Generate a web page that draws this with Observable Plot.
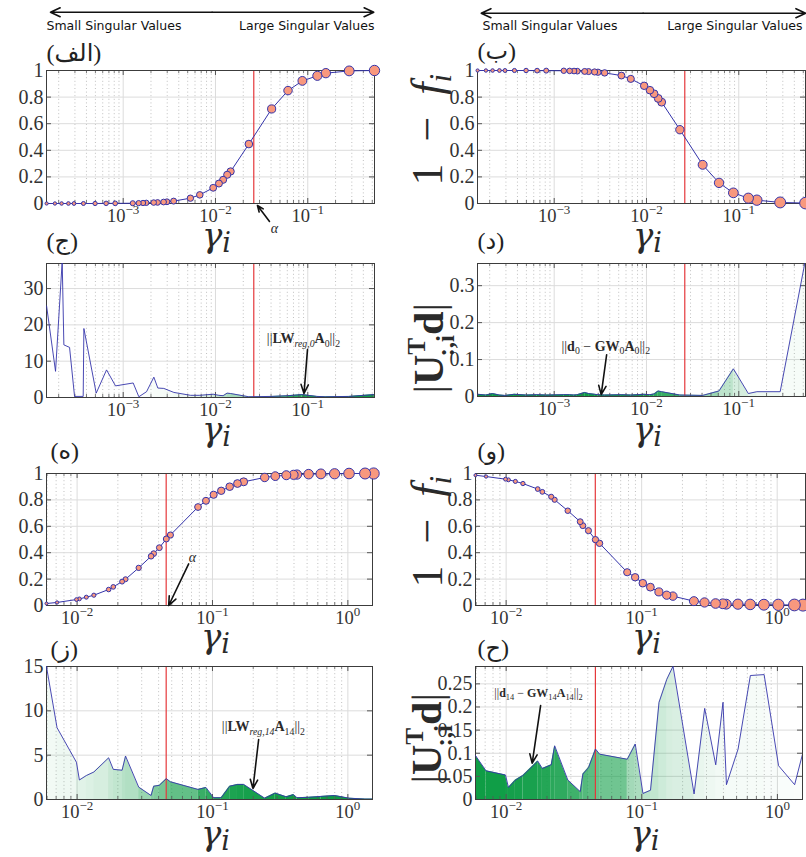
<!DOCTYPE html>
<html><head><meta charset="utf-8">
<script src="https://cdn.jsdelivr.net/npm/d3@7"></script>
<script src="https://cdn.jsdelivr.net/npm/@observablehq/plot@0.6"></script>
<style>
html,body{margin:0;padding:0;background:#fff;overflow:hidden}
#root{position:relative;width:806px;height:857px;overflow:hidden;background:#fff}
</style></head><body><div id="root"></div>
<script>
// ---------------- data ----------------
const gammaA = [1.48e-4, 1.82e-4, 2.15e-4, 2.55e-4, 2.93e-4, 3.71e-4, 4.96e-4, 6.53e-4, 8.19e-4, 1.27e-3, 1.47e-3, 1.64e-3, 1.78e-3, 2.14e-3, 2.36e-3, 2.74e-3, 2.98e-3, 3.52e-3, 5.35e-3, 6.76e-3, 9.44e-3, 1.09e-2, 1.21e-2, 1.34e-2, 1.46e-2, 2.30e-2, 4.06e-2, 6.11e-2, 8.74e-2, 0.127, 0.157, 0.281, 0.528];
const filterA = [0, 0, 0, 0, 0, 0, 0, 0.001, 0.001, 0.002, 0.003, 0.004, 0.005, 0.007, 0.008, 0.011, 0.013, 0.018, 0.04, 0.065, 0.118, 0.15, 0.178, 0.216, 0.241, 0.447, 0.711, 0.849, 0.922, 0.96, 0.98, 0.997, 1.0];
const oneMinusFB = [1, 1, 1, 1, 1, 1, 1, 0.999, 0.999, 0.998, 0.997, 0.996, 0.995, 0.993, 0.992, 0.989, 0.987, 0.982, 0.962, 0.937, 0.885, 0.852, 0.825, 0.79, 0.762, 0.555, 0.291, 0.155, 0.08, 0.04, 0.025, 0.008, 0.003];
const gammaC = [1.479e-4, 1.849e-4, 2.183e-4, 2.276e-4, 2.623e-4, 2.971e-4, 3.687e-4, 3.750e-4, 5.10e-4, 6.60e-4, 8.26e-4, 1.283e-3, 1.478e-3, 1.791e-3, 2.149e-3, 2.373e-3, 2.754e-3, 3.538e-3, 5.36e-3, 6.76e-3, 9.44e-3, 1.086e-2, 1.211e-2, 1.337e-2, 1.454e-2, 2.296e-2, 4.04e-2, 6.07e-2, 8.69e-2, 0.1262, 0.1552, 0.278, 0.527];
const normC = [25.2, 7.2, 37.5, 14.5, 13.8, 0.3, 0.3, 19.0, 1.2, 7.6, 3.2, 4.0, 0.2, 1.6, 5.6, 2.6, 2.5, 1.4, 0.6, 0.6, 0.9, 0.6, 0.5, 1.2, 1.1, 0.2, 0.3, 0.5, 0.8, 0.3, 0.2, 0.3, 0.8];
const coefD = [0.006, 0.004, 0.008, 0.004, 0.003, 0.006, 0.004, 0.005, 0.004, 0.005, 0.005, 0.004, 0.005, 0.011, 0.008, 0.006, 0.005, 0.004, 0.005, 0.004, 0.006, 0.005, 0.007, 0.015, 0.013, 0.004, 0.003, 0.015, 0.075, 0.008, 0.013, 0.013, 0.37];
const gammaE = [0.00594, 0.00711, 0.00989, 0.0104, 0.0117, 0.0133, 0.0171, 0.0185, 0.0215, 0.0228, 0.0285, 0.0352, 0.0368, 0.0405, 0.0456, 0.0489, 0.0782, 0.0895, 0.102, 0.116, 0.134, 0.153, 0.170, 0.243, 0.291, 0.351, 0.397, 0.421, 0.513, 0.632, 0.798, 1.02, 1.34, 1.55];
const filterE = [0.015, 0.023, 0.045, 0.050, 0.063, 0.078, 0.121, 0.141, 0.181, 0.199, 0.285, 0.373, 0.393, 0.438, 0.504, 0.534, 0.746, 0.793, 0.839, 0.869, 0.900, 0.924, 0.937, 0.970, 0.980, 0.987, 0.990, 0.992, 0.995, 0.997, 0.998, 1, 1, 1];
const oneMinusFF = [0.987, 0.977, 0.957, 0.952, 0.940, 0.924, 0.882, 0.861, 0.824, 0.801, 0.718, 0.635, 0.605, 0.567, 0.499, 0.471, 0.252, 0.214, 0.169, 0.139, 0.103, 0.078, 0.071, 0.033, 0.023, 0.015, 0.013, 0.010, 0.010, 0.008, 0.006, 0.005, 0.004, 0.003];
const normG = [15.0, 8.1, 4.2, 2.2, 2.7, 3.1, 4.7, 3.4, 3.3, 4.9, 1.4, 0.45, 1.5, 1.6, 2.35, 2.0, 1.14, 1.36, 0.2, 0.2, 1.5, 1.7, 1.7, 0.15, 0.72, 0.3, 0.55, 0.2, 0.25, 0.35, 0.45, 0.15, 0.05, 0.05];
const coefH = [0.095, 0.062, 0.053, 0.026, 0.042, 0.052, 0.083, 0.067, 0.075, 0.116, 0.042, 0.017, 0.055, 0.069, 0.109, 0.098, 0.087, 0.12, 0.013, 0.02, 0.21, 0.26, 0.288, 0.012, 0.197, 0.075, 0.21, 0.032, 0.109, 0.268, 0.27, 0.073, 0.032, 0.104];

const alphaTop = 0.026, alphaBottom = 0.0455;
const xTicksTop = [1e-3, 1e-2, 1e-1];
const xTicksBottom = [1e-2, 1e-1, 1];
const yTicksF = [0, 0.2, 0.4, 0.6, 0.8, 1];
const yTicksC = [0, 10, 20, 30];
const yTicksD = [0, 0.1, 0.2, 0.3];
const yTicksG = [0, 5, 10, 15];
const yTicksH = [0, 0.05, 0.1, 0.15, 0.2, 0.25];
const panelLetters = ["(الف)", "(ب)", "(ج)", "(د)", "(ه)", "(و)", "(ز)", "(ح)"];
const headerTexts = ["Small Singular Values", "Large Singular Values"];

// annotation anchors (data units of each panel)
const alphaLabelA = [{g: 0.0436, v: -0.188}];
const arrowA = [{g1: 0.0385, v1: -0.135, g2: 0.0285, v2: -0.015}];
const labelC = [{g: 0.0898, v: 16.2}];
const arrowC = [{g1: 0.0993, v1: 13.2, g2: 0.091, v2: 1.1}];
const labelD = [{g: 0.00362, v: 0.1365}];
const arrowD = [{g1: 0.0037, v1: 0.113, g2: 0.00323, v2: 0.005}];
const alphaLabelE = [{g: 0.071, v: 0.359}];
const arrowE = [{g1: 0.0667, v1: 0.315, g2: 0.0475, v2: 0.0}];
const labelG = [{g: 0.2377, v: 8.18}];
const arrowG = [{g1: 0.2193, v1: 6.77, g2: 0.199, v2: 1.24}];
const labelH = [{g: 0.01734, v: 0.229}];
const arrowH = [{g1: 0.01795, v1: 0.203, g2: 0.01556, v2: 0.0785}];
const headerLeft = {arrow: [{a: 9.2e-3, b: 1.63e-4, y: 1.438}, {a: 9.2e-3, b: 0.519, y: 1.438}], small: [{g: 1.476e-4, y: 1.331}], large: [{g: 0.528, y: 1.331}]};
const headerRight = {arrow: [{a: 9.2e-3, b: 1.62e-4, y: 1.431}, {a: 9.2e-3, b: 0.53, y: 1.431}], small: [{g: 1.67e-4, y: 1.331}], large: [{g: 0.01675, y: 1.331}]};

// ---------------- style ----------------
const SERIF = "'Liberation Serif', 'DejaVu Serif', 'DejaVu Sans', serif";
const GSERIF = "'DejaVu Serif', 'Liberation Serif', serif";
const SANS = "'DejaVu Sans', 'Noto Sans', sans-serif";
const BLUE = "#3434aa";
const SALMON = "#f8987e";
const RED = "#e5383b";
const INK = "#2a2a2a";
const root = document.getElementById("root");

function minorTicks(lo, hi) {
  const out = [];
  for (let k = Math.floor(lo); k <= Math.ceil(hi); k++)
    for (let m = 2; m <= 9; m++) { const v = m * 10 ** k, l = Math.log10(v); if (l > lo && l < hi) out.push(v); }
  return out;
}
function interpAt(gs, vs, g) {
  const lg = Math.log10(g);
  if (g <= gs[0]) return vs[0];
  for (let i = 0; i < gs.length - 1; i++) {
    if (g <= gs[i + 1]) {
      const a = Math.log10(gs[i]), b = Math.log10(gs[i + 1]);
      return vs[i] + (lg - a) / (b - a) * (vs[i + 1] - vs[i]);
    }
  }
  return vs[vs.length - 1];
}
function segments(gs, vs, ws) {
  const rows = [];
  for (let i = 0; i < gs.length - 1; i++) {
    const w = Math.max(0, Math.min(1, ws[i]));
    const c = `rgba(12,156,68,${Math.pow(w, 0.7).toFixed(3)})`;
    rows.push({seg: i, x: gs[i], y: vs[i], c}, {seg: i, x: gs[i + 1], y: vs[i + 1], c});
  }
  return rows;
}
function rich(el, parts, base, family) {
  const t = d3.select(el); t.text(null);
  if (family) t.attr("font-family", family);
  let shift = 0;
  for (const p of parts) {
    const s = p.s || 1, target = (p.dy || 0) * base;
    const ts = t.append("tspan").attr("font-size", (s * base).toFixed(1));
    const d = target - shift;
    if (Math.abs(d) > 1e-6) ts.attr("dy", d.toFixed(1));
    if (p.dx) ts.attr("dx", (p.dx * base).toFixed(1));
    if (p.b) ts.attr("font-weight", "bold");
    if (p.i) ts.attr("font-style", "italic");
    ts.text(p.t);
    shift = target;
  }
}
const NB = "\u00a0", EN = "\u2002";
const richParts = {
  gamma: [{t: "γ", i: 1}, {t: "i", i: 1, s: 0.8, dy: 0.15}],
  onef: [{t: "1" + EN + "−" + EN}, {t: "f", i: 1}, {t: "i", i: 1, s: 0.7, dy: 0.22}],
  utd: [{t: "|"}, {t: "U", b: 1}, {t: "T", b: 1, s: 0.6, dy: -0.42}, {t: ":,i", b: 1, s: 0.6, dy: 0.28, dx: -0.4}, {t: "d", b: 1, dy: 0}, {t: "|"}],
  normC: [{t: "||"}, {t: "LW", b: 1}, {t: "reg,0", i: 1, s: 0.7, dy: 0.25}, {t: "A", b: 1, dy: 0}, {t: "0", s: 0.7, dy: 0.25}, {t: "||", dy: 0}, {t: "2", s: 0.7, dy: 0.25}],
  normD: [{t: "||"}, {t: "d", b: 1}, {t: "0", s: 0.7, dy: 0.25}, {t: NB + "−" + NB, dy: 0}, {t: "GW", b: 1}, {t: "0", s: 0.7, dy: 0.25}, {t: "A", b: 1, dy: 0}, {t: "0", s: 0.7, dy: 0.25}, {t: "||", dy: 0}, {t: "2", s: 0.7, dy: 0.25}],
  normG: [{t: "||"}, {t: "LW", b: 1}, {t: "reg,14", i: 1, s: 0.7, dy: 0.25}, {t: "A", b: 1, dy: 0}, {t: "14", s: 0.7, dy: 0.25}, {t: "||", dy: 0}, {t: "2", s: 0.7, dy: 0.25}],
  normH: [{t: "||"}, {t: "d", b: 1}, {t: "14", s: 0.7, dy: 0.25}, {t: NB + "−" + NB, dy: 0}, {t: "GW", b: 1}, {t: "14", s: 0.7, dy: 0.25}, {t: "A", b: 1, dy: 0}, {t: "14", s: 0.7, dy: 0.25}, {t: "||", dy: 0}, {t: "2", s: 0.7, dy: 0.25}],
  alpha: [{t: "α", i: 1}]
};
const richBase = {gamma: 34, onef: 44, utd: 42, normC: 14, normD: 14, normG: 14, normH: 12, alpha: 14};
const richFamily = {gamma: GSERIF};

function richText(key, opts) {
  return Plot.text(["§" + key], {text: d => d, fill: INK, fontFamily: richFamily[key] || SERIF, fontSize: richBase[key], ...opts});
}
function arrowMark(data) {
  return Plot.arrow(data, {x1: "g1", y1: "v1", x2: "g2", y2: "v2", stroke: "#111", strokeWidth: 1.6, headLength: 9, headAngle: 45});
}

function build(cfg) {
  const {left, top, width, height, ml, mr, mt, mb, xlog, xTicks, yDomain, yTicks} = cfg;
  const fw = width - ml - mr, fh = height - mt - mb;
  const minor = minorTicks(xlog[0], xlog[1]);
  const grid = [
    Plot.ruleX(minor, {stroke: "#b0b0b0", strokeWidth: 0.8, strokeDasharray: "1,2.6"}),
    Plot.ruleX(xTicks, {stroke: "#dcdcdc", strokeWidth: 1}),
    Plot.ruleY(yTicks, {stroke: "#dcdcdc", strokeWidth: 1})
  ];
  const box = [
    Plot.ruleX(minor, {stroke: "#555", strokeWidth: 0.8, insetTop: fh - 3}),
    Plot.ruleX(minor, {stroke: "#555", strokeWidth: 0.8, insetBottom: fh - 3}),
    Plot.ruleX(xTicks, {stroke: "#555", insetTop: fh - 5}),
    Plot.ruleX(xTicks, {stroke: "#555", insetBottom: fh - 5}),
    Plot.ruleY(yTicks, {stroke: "#555", insetRight: fw - 5}),
    Plot.ruleY(yTicks, {stroke: "#555", insetLeft: fw - 5}),
    Plot.frame({stroke: "#3c3c3c", strokeWidth: 1})
  ];
  const svg = Plot.plot({
    width, height, marginLeft: ml, marginRight: mr, marginTop: mt, marginBottom: mb,
    x: {type: "log", domain: [10 ** xlog[0], 10 ** xlog[1]], ticks: xTicks, tickFormat: d => "10^" + Math.round(Math.log10(d)), tickSize: 0, tickPadding: 5, label: null},
    y: {domain: yDomain, ticks: yTicks, tickFormat: d => String(d), tickSize: 0, tickPadding: 3, label: null},
    r: cfg.r,
    marks: [...grid, ...(cfg.under || []), ...box, ...(cfg.marks || []), ...(cfg.overlay || [])]
  });
  svg.style.position = "absolute";
  svg.style.left = left + "px";
  svg.style.top = top + "px";
  svg.style.background = "transparent";
  svg.style.fontFamily = SERIF;
  svg.style.fontSize = "19px";
  svg.style.color = "#333";
  svg.style.maxWidth = "none";
  const s = d3.select(svg);
  s.selectAll('g[aria-label="x-axis tick label"]').attr("font-size", 18.5);
  s.selectAll('g[aria-label="y-axis tick label"]').attr("font-size", 20);
  s.selectAll('g[aria-label="x-axis tick label"] text').each(function () {
    const str = this.textContent;
    if (!str.includes("^")) return;
    const [b, e] = str.split("^");
    const t = d3.select(this); t.text(null);
    t.append("tspan").text(b);
    t.append("tspan").attr("dy", -8).attr("font-size", 13).text(e.replace("-", "−"));
  });
  s.selectAll("text").each(function () {
    const c = this.textContent;
    if (c && c.startsWith("§")) {
      const key = c.slice(1);
      if (richParts[key]) rich(this, richParts[key], richBase[key], richFamily[key]);
    }
  });
  root.appendChild(svg);
  return svg;
}

function letter(i, dx, dy) {
  return Plot.text([panelLetters[i]], {text: d => d, frameAnchor: "top-left", textAnchor: "start", lineAnchor: "bottom", dx, dy, fontSize: 24, fill: "#222", fontFamily: SERIF});
}
function gammaLabel(dy) {
  return richText("gamma", {frameAnchor: "bottom", lineAnchor: "bottom", dx: 6, dy});
}
function header(h) {
  return [
    Plot.arrow(h.arrow, {x1: "a", x2: "b", y1: "y", y2: "y", stroke: "#111", strokeWidth: 1.6, headLength: 10, headAngle: 50}),
    Plot.text(h.small, {x: "g", y: "y", text: () => headerTexts[0], textAnchor: "start", fontFamily: SANS, fontSize: 12.5, fill: "#111"}),
    Plot.text(h.large, {x: "g", y: "y", text: () => headerTexts[1], textAnchor: h === headerLeft ? "end" : "start", fontFamily: SANS, fontSize: 12.5, fill: "#111"})
  ];
}
function filterMarks(gs, vs) {
  const rows = gs.map((g, i) => ({g, v: vs[i], lg: Math.log10(g)}));
  return [
    Plot.line(rows, {x: "g", y: "v", stroke: BLUE, strokeWidth: 1}),
    Plot.dot(rows, {x: "g", y: "v", r: "lg", fill: SALMON, stroke: BLUE, strokeWidth: 1})
  ];
}
function coefUnder(gs, vs, ws, alpha) {
  return [
    Plot.areaY(segments(gs, vs, ws), {x: "x", y1: 0, y2: "y", z: "seg", fill: "c", clip: true}),
    Plot.ruleX([alpha], {stroke: RED, strokeWidth: 1.2})
  ];
}
function coefLine(gs, vs) {
  const rows = gs.map((g, i) => ({g, v: vs[i]}));
  return [Plot.line(rows, {x: "g", y: "v", stroke: BLUE, strokeWidth: 0.9, clip: true})];
}

const xlogTop = [-3.831, -0.277];
const opC = gammaC.map(g => interpAt(gammaA, filterA, g));

// (A)
build({left: 0, top: 0, width: 400, height: 264, ml: 46, mr: 26, mt: 70, mb: 61,
  xlog: xlogTop, xTicks: xTicksTop, yDomain: [0, 1], yTicks: yTicksF,
  r: {type: "linear", domain: [Math.log10(gammaA[0]), Math.log10(gammaA[gammaA.length - 1])], range: [1.6, 5.2]},
  under: [Plot.ruleX([alphaTop], {stroke: RED, strokeWidth: 1.2})],
  marks: filterMarks(gammaA, filterA),
  overlay: [...header(headerLeft), letter(0, 0, -10), gammaLabel(43),
    richText("alpha", {x: () => alphaLabelA[0].g, y: () => alphaLabelA[0].v, fontSize: 13}), arrowMark(arrowA)]
});
// (B)
build({left: 400, top: 0, width: 406, height: 264, ml: 77, mr: 1, mt: 70, mb: 61,
  xlog: xlogTop, xTicks: xTicksTop, yDomain: [0, 1], yTicks: yTicksF,
  r: {type: "linear", domain: [Math.log10(gammaA[0]), Math.log10(gammaA[gammaA.length - 1])], range: [1.6, 5.8]},
  under: [Plot.ruleX([alphaTop], {stroke: RED, strokeWidth: 1.2})],
  marks: filterMarks(gammaA, oneMinusFB),
  overlay: [...header(headerRight), letter(1, 0, -12), gammaLabel(43),
    richText("onef", {frameAnchor: "bottom-left", rotate: -90, textAnchor: "start", lineAnchor: "bottom", dx: -36, dy: -18})]
});
// (C)
build({left: 0, top: 223, width: 400, height: 236, ml: 46, mr: 26, mt: 40, mb: 62,
  xlog: xlogTop, xTicks: xTicksTop, yDomain: [0, 36.9], yTicks: yTicksC,
  under: coefUnder(gammaC, normC, opC, alphaTop),
  marks: coefLine(gammaC, normC),
  overlay: [letter(2, 0, -15), gammaLabel(43),
    richText("normC", {x: () => labelC[0].g, y: () => labelC[0].v}), arrowMark(arrowC)]
});
// (D)
build({left: 400, top: 223, width: 406, height: 236, ml: 77, mr: 1, mt: 40, mb: 63,
  xlog: xlogTop, xTicks: xTicksTop, yDomain: [0, 0.36], yTicks: yTicksD,
  under: coefUnder(gammaA, coefD, oneMinusFB, alphaTop),
  marks: coefLine(gammaA, coefD),
  overlay: [letter(3, 0, -15), gammaLabel(44),
    richText("utd", {frameAnchor: "bottom-left", rotate: -90, textAnchor: "start", lineAnchor: "bottom", dx: -35, dy: -3}),
    richText("normD", {x: () => labelD[0].g, y: () => labelD[0].v}), arrowMark(arrowD)]
});
// (E)
const xlogE = [-2.226, 0.182];
build({left: 0, top: 433, width: 400, height: 234, ml: 46, mr: 28, mt: 40, mb: 62,
  xlog: xlogE, xTicks: xTicksBottom, yDomain: [0, 1], yTicks: yTicksF,
  r: {type: "linear", domain: [Math.log10(gammaE[0]), Math.log10(gammaE[gammaE.length - 1])], range: [1.5, 5.6]},
  under: [Plot.ruleX([alphaBottom], {stroke: RED, strokeWidth: 1.2})],
  marks: filterMarks(gammaE, filterE),
  overlay: [letter(4, 4, -15), gammaLabel(42),
    richText("alpha", {x: () => alphaLabelE[0].g, y: () => alphaLabelE[0].v, fontSize: 13}), arrowMark(arrowE)]
});
// (F)
build({left: 400, top: 433, width: 406, height: 234, ml: 75, mr: 1, mt: 40, mb: 62,
  xlog: [-2.226, 0.209], xTicks: xTicksBottom, yDomain: [0, 1], yTicks: yTicksF,
  r: {type: "linear", domain: [Math.log10(gammaE[0]), Math.log10(gammaE[gammaE.length - 1])], range: [1.5, 6]},
  under: [Plot.ruleX([alphaBottom], {stroke: RED, strokeWidth: 1.2})],
  marks: filterMarks(gammaE, oneMinusFF),
  overlay: [letter(5, 2, -15), gammaLabel(42),
    richText("onef", {frameAnchor: "bottom-left", rotate: -90, textAnchor: "start", lineAnchor: "bottom", dx: -34, dy: -18})]
});
// (G)
build({left: 0, top: 626, width: 400, height: 231, ml: 46, mr: 28, mt: 40, mb: 58,
  xlog: xlogE, xTicks: xTicksBottom, yDomain: [0, 15], yTicks: yTicksG,
  under: coefUnder(gammaE, normG, filterE, alphaBottom),
  marks: coefLine(gammaE, normG),
  overlay: [letter(6, 4, -10), gammaLabel(45),
    richText("normG", {x: () => labelG[0].g, y: () => labelG[0].v}), arrowMark(arrowG)]
});
// (H)
build({left: 400, top: 626, width: 406, height: 231, ml: 75, mr: 4, mt: 40, mb: 58,
  xlog: [-2.226, 0.185], xTicks: xTicksBottom, yDomain: [0, 0.2875], yTicks: yTicksH,
  under: coefUnder(gammaE, coefH, oneMinusFF, alphaBottom),
  marks: coefLine(gammaE, coefH),
  overlay: [letter(7, 2, -11), gammaLabel(45),
    richText("utd", {frameAnchor: "bottom-left", rotate: -90, textAnchor: "start", lineAnchor: "bottom", dx: -35, dy: -16}),
    richText("normH", {x: () => labelH[0].g, y: () => labelH[0].v}), arrowMark(arrowH)]
});
</script></body></html>
